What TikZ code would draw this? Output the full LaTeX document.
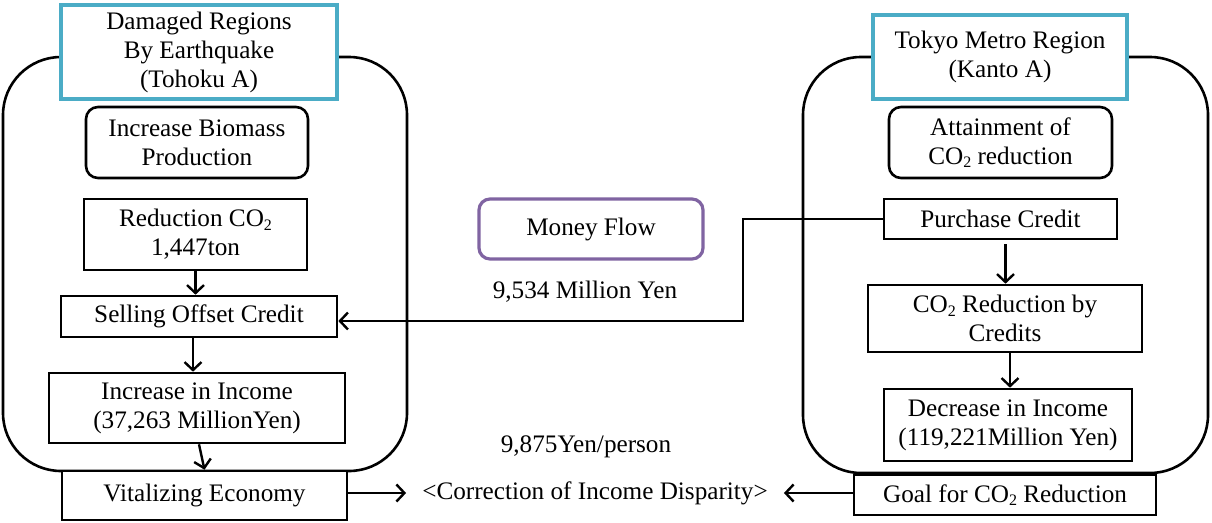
\documentclass[tikz,border=0pt]{standalone}
\usepackage{fontspec}
\setmainfont{Liberation Serif}
\usetikzlibrary{arrows.meta}
\definecolor{hdrcyan}{HTML}{4BACC6}
\definecolor{mfpurple}{HTML}{8064A2}
\newcommand{\subtwo}{\raisebox{-0.3ex}{\fontsize{16}{16}\selectfont 2}}
\begin{document}
\begin{tikzpicture}[x=1pt,y=-1pt,
  every node/.style={font=\fontsize{25.2}{29}\selectfont, align=center, inner sep=0pt},
  frame/.style={draw=black, line width=2.6pt, rounded corners=58pt},
  hdrbox/.style={draw=hdrcyan, line width=3.2pt, fill=white},
  rbox/.style={draw=black, line width=2.6pt, rounded corners=12pt, fill=white},
  sbox/.style={draw=black, line width=2.6pt, fill=white},
  mfbox/.style={draw=mfpurple, line width=3.2pt, rounded corners=11pt, fill=white},
  arr/.style={draw=black, line width=2.4pt, -{Straight Barb[length=8pt,width=17pt,line width=2.4pt]}},
  plain/.style={}
]
\useasboundingbox (0,0) rectangle (1212,522);
\fill[white] (0,0) rectangle (1212,522);

% big frames
\draw[frame] (3,57) rectangle (407,471);
\draw[frame] (803,57) rectangle (1208,473);

% left column
\node[hdrbox, minimum width=276pt, minimum height=94pt] (hdrL) at (199,52) {Damaged Regions\\By Earthquake\\(Tohoku A)};
\node[rbox, minimum width=222pt, minimum height=71pt] (bio) at (197,142.5) {Increase Biomass\\Production};
\node[sbox, minimum width=223pt, minimum height=71pt] (red) at (195.5,234.5) {Reduction CO\subtwo\\1,447ton};
\node[sbox, minimum width=276pt, minimum height=41pt] (sell) at (199,316.5) {Selling Offset Credit};
\node[sbox, minimum width=296pt, minimum height=70pt] (inc) at (197,408) {Increase in Income\\(37,263 MillionYen)};
\node[sbox, minimum width=285pt, minimum height=49pt] (vit) at (204.5,495.5) {Vitalizing Economy};

% right column
\node[hdrbox, minimum width=254pt, minimum height=84pt] (hdrR) at (1000,57) {Tokyo Metro Region\\(Kanto A)};
\node[rbox, minimum width=223pt, minimum height=71pt] (att) at (1000.5,142.5) {Attainment of\\CO\subtwo{} reduction};
\node[sbox, minimum width=233pt, minimum height=40pt] (pur) at (1000.5,219) {Purchase Credit};
\node[sbox, minimum width=274pt, minimum height=67pt] (cored) at (1005,318.5) {CO\subtwo{} Reduction by\\Credits};
\node[sbox, minimum width=248pt, minimum height=72pt] (dec) at (1008,425) {Decrease in Income\\(119,221Million Yen)};
\node[sbox, minimum width=302pt, minimum height=40pt] (goal) at (1005,495) {Goal for CO\subtwo{} Reduction};

% middle
\node[mfbox, minimum width=224pt, minimum height=60pt] (money) at (591,229) {Money Flow};
\node[plain] (amount) at (585,292) {9,534 Million Yen};
\node[plain] (perperson) at (586,447) {9,875Yen/person};
\node[plain, inner xsep=16pt, inner ysep=4pt] (corr) at (595,493) {<Correction of Income Disparity>};

% arrows left
\draw[arr] (red.south) -- (red.south |- sell.north);
\draw[arr] ([xshift=-6pt]sell.south) -- ([xshift=-6pt]sell.south |- inc.north);
\draw[arr] ([xshift=2pt]inc.south) -- (vit.north);

% arrows right
\draw[arr] ([xshift=5pt,yshift=-4pt]pur.south) -- ([xshift=5pt]pur.south |- cored.north);
\draw[arr] ([xshift=5pt]cored.south) -- ([xshift=5pt]cored.south |- dec.north);

% money connector
\coordinate (k1) at (743,219);
\coordinate (k2) at (743,321);
\draw[arr] (pur.west) -- (k1) -- (k2) -- (sell.east |- k2);

% bottom arrows
\draw[arr] (vit.east |- corr.west) -- (corr.west);
\draw[arr] (goal.west |- corr.east) -- (corr.east);
\end{tikzpicture}
\end{document}
